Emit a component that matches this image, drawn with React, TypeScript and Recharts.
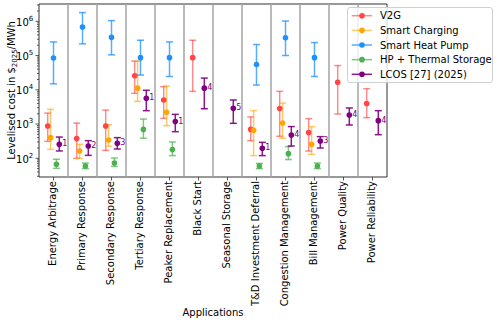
import React from 'react';
import {
  ComposedChart,
  Scatter,
  XAxis,
  YAxis,
  ErrorBar,
  ReferenceLine,
  ReferenceArea,
  Legend,
  Label,
} from 'recharts';

const categories = [
  'Energy Arbitrage',
  'Primary Response',
  'Secondary Response',
  'Tertiary Response',
  'Peaker Replacement',
  'Black Start',
  'Seasonal Storage',
  'T&D Investment Deferral',
  'Congestion Management',
  'Bill Management',
  'Power Quality',
  'Power Reliability',
];

type Triple = [number, number, number] | null; // [value, low, high]

const v2g: Triple[] = [
  [877, 313, 2090], [376, 100, 1070], [877, 171, 2570], [25700, 7900, 69000],
  [5040, 1470, 12400], [87000, 9000, 280000], null, [700, 328, 1620],
  [2830, 440, 9000], [565, 163, 1440], [16600, 1960, 51000], [3970, 1540, 10800],
];
const smartCharging: Triple[] = [
  [402, 183, 2700], [163, 100, 256], [342, 224, 963], [11200, 4600, 69000],
  [2200, 900, 12900], null, null, [660, 120, 2460],
  [1070, 384, 4100], [256, 131, 845], null, null,
];
const smartHeatPump: Triple[] = [
  [85000, 15000, 250000], [680000, 220000, 1800000], [340000, 105000, 1050000], [87000, 27000, 280000],
  [87000, 24500, 250000], null, null, [55000, 13800, 210000],
  [330000, 100000, 1020000], [87000, 24500, 240000], null, null,
];
const hpThermal: Triple[] = [
  [67, 51, 94], [60, 50, 73], [73, 58, 102], [700, 385, 1400],
  [180, 120, 300], null, null, [60, 50, 71],
  [137, 92, 220], [60, 50, 73], null, null,
];
const lcos: Triple[] = [
  [256, 164, 418], [229, 122, 328], [274, 187, 402], [5640, 2460, 9700],
  [1180, 600, 1920], [11200, 2800, 22000], [2880, 1050, 5040], [196, 120, 293],
  [480, 229, 845], [320, 200, 430], [1840, 940, 2950], [1260, 490, 2460],
];
const lcosRefs = ['1', '2', '3', '1', '1', '4', '5', '1', '4', '3', '4', '4'];

const yMajorTicks = [100, 1000, 10000, 100000, 1000000];

const FONT = "'DejaVu Sans', sans-serif";
const Y_DOMAIN: [number, number] = [28.5, 3.2e6];
const AXIS_X = 39;
const PLOT_BOTTOM = 177;

const seriesDefs = [
  { name: 'V2G', values: v2g, point: '#ff4545', bar: '#ff0000', barOpacity: 0.45, offset: -0.2, refs: null as string[] | null },
  { name: 'Smart Charging', values: smartCharging, point: '#ffa500', bar: '#ffa500', barOpacity: 0.6, offset: -0.1, refs: null },
  { name: 'Smart Heat Pump', values: smartHeatPump, point: '#1e90ff', bar: '#1e90ff', barOpacity: 0.75, offset: 0, refs: null },
  { name: 'HP + Thermal Storage', values: hpThermal, point: '#4caf50', bar: '#4caf50', barOpacity: 0.7, offset: 0.1, refs: null },
  { name: 'LCOS [27] (2025)', values: lcos, point: '#800080', bar: '#800080', barOpacity: 0.9, offset: 0.2, refs: lcosRefs },
];

const buildData = (values: Triple[], offset: number, refs: string[] | null) =>
  values
    .map((t, i) =>
      t
        ? {
            x: i + 0.5 + offset,
            y: t[0],
            err: [t[0] - t[1], t[2] - t[0]],
            ref: refs ? refs[i] : null,
          }
        : null
    )
    .filter(Boolean) as any[];

const yTicks: number[] = (() => {
  const out: number[] = [];
  for (let e = 1; e <= 6; e++) {
    for (let m = 1; m <= 9; m++) {
      const v = m * Math.pow(10, e);
      if (v >= Y_DOMAIN[0] && v <= Y_DOMAIN[1]) out.push(v);
    }
  }
  return out;
})();

const YTick = (props: any) => {
  const { y, payload } = props;
  const v = payload.value;
  const exp = Math.log10(v);
  const isMajor = Math.abs(exp - Math.round(exp)) < 1e-6;
  return (
    <g>
      <line x1={AXIS_X - (isMajor ? 3.5 : 2)} x2={AXIS_X} y1={y} y2={y} stroke="#333" strokeWidth={0.8} />
      {isMajor && (
        <text x={33.3} y={y + 4.2} textAnchor="end" fontSize={10} fontFamily={FONT} fill="#000">
          10
          <tspan fontSize={7} dy={-4.8}>{Math.round(exp)}</tspan>
        </text>
      )}
    </g>
  );
};

const XTick = (props: any) => {
  const { x, payload } = props;
  const idx = Math.round(payload.value - 0.5);
  const label = categories[idx];
  return (
    <g>
      <line x1={x} x2={x} y1={PLOT_BOTTOM} y2={PLOT_BOTTOM + 3.5} stroke="#333" strokeWidth={0.8} />
      <text
        transform={`translate(${x + 2.8}, 181) rotate(-90)`}
        textAnchor="end"
        fontSize={10}
        fontFamily={FONT}
        fill="#000"
      >
        {label}
      </text>
    </g>
  );
};

const makeShape = (color: string) => (props: any) => {
  const { cx, cy, payload } = props;
  if (cx == null || cy == null) return <g />;
  return (
    <g>
      <circle cx={cx} cy={cy} r={2.8} fill={color} />
      {payload && payload.ref ? (
        <text
          x={cx + 3}
          y={cy - 0.5}
          dominantBaseline="central"
          fontSize={8}
          fontFamily={FONT}
          fill={color}
        >
          {payload.ref}
        </text>
      ) : null}
    </g>
  );
};

const LegendContent = () => (
  <svg width={146} height={76} style={{ display: 'block' }}>
    {seriesDefs.map((s, i) => {
      const cy = 7.7 + i * 14.65;
      return (
        <g key={s.name}>
          <line x1={3.7} x2={24} y1={cy} y2={cy} stroke={s.bar} strokeOpacity={s.barOpacity} strokeWidth={1.5} />
          <circle cx={14} cy={cy} r={2.8} fill={s.point} />
          <text x={32} y={cy + 3.6} fontSize={10} fontFamily={FONT} fill="#000">
            {s.name}
          </text>
        </g>
      );
    })}
  </svg>
);

const YLabel = () => (
  <text
    transform="translate(14.5, 90.5) rotate(-90)"
    textAnchor="middle"
    fontSize={10}
    fontFamily={FONT}
    fill="#000"
  >
    Levelised cost in $
    <tspan fontSize={7} dy={2}>2025</tspan>
    <tspan dy={-2}>/MWh</tspan>
  </text>
);

const XLabel = () => (
  <text x={213} y={316} textAnchor="middle" fontSize={10} fontFamily={FONT} fill="#000">
    Applications
  </text>
);

export default function App() {
  const xTicks = categories.map((_, i) => i + 0.5);
  return (
    <div style={{ position: 'absolute', left: 0, top: 0, width: 499, height: 323, background: '#fff' }}>
      <ComposedChart width={499} height={323} margin={{ top: 4, right: 112, bottom: 0, left: 0 }}>
        <XAxis
          type="number"
          dataKey="x"
          domain={[0, 12]}
          ticks={xTicks}
          interval={0}
          allowDataOverflow
          height={146}
          axisLine={false}
          tickLine={false}
          tick={<XTick />}
        >
          <Label content={<XLabel />} />
        </XAxis>
        <YAxis
          type="number"
          dataKey="y"
          scale="log"
          domain={Y_DOMAIN}
          ticks={yTicks}
          interval={0}
          allowDataOverflow
          width={39}
          axisLine={false}
          tickLine={false}
          tick={<YTick />}
        >
          <Label content={<YLabel />} />
        </YAxis>
        {categories.slice(1).map((_, i) => (
          <ReferenceLine key={i} x={i + 1} stroke="#a3a3a3" strokeWidth={1.5} />
        ))}
        <ReferenceArea x1={0} x2={12} y1={Y_DOMAIN[0]} y2={Y_DOMAIN[1]} fill="none" stroke="#333" strokeWidth={1} fillOpacity={0} />
        {seriesDefs.map((s) => (
          <Scatter
            key={s.name}
            name={s.name}
            data={buildData(s.values, s.offset, s.refs)}
            fill={s.point}
            isAnimationActive={false}
            shape={makeShape(s.point)}
          >
            <ErrorBar
              dataKey="err"
              direction="y"
              width={3.5}
              stroke={s.bar}
              strokeOpacity={s.barOpacity}
              strokeWidth={1.5}
              isAnimationActive={false}
            />
          </Scatter>
        ))}
        <Legend
          layout="vertical"
          align="center"
          verticalAlign="middle"
          wrapperStyle={{
            left: 347,
            top: 7,
            width: 146,
            height: 76,
            border: '1px solid #d0d0d0',
            borderRadius: 3,
            background: 'rgba(255,255,255,0.8)',
            boxSizing: 'border-box',
            padding: 0,
            margin: 0,
          }}
          content={<LegendContent />}
        />
      </ComposedChart>
    </div>
  );
}
